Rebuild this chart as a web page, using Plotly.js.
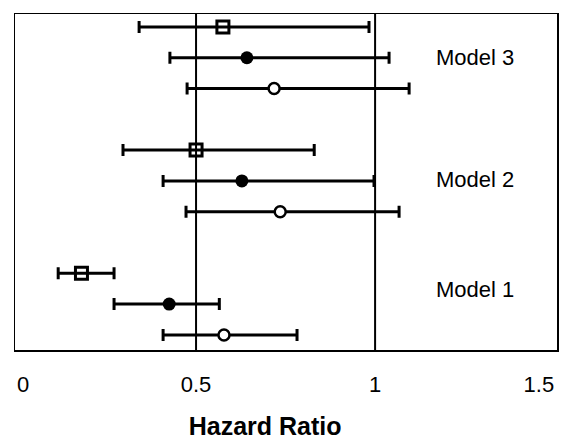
<!DOCTYPE html>
<html>
<head>
<meta charset="utf-8">
<script src="https://cdn.plot.ly/plotly-3.0.1.min.js"></script>
<style>html,body{margin:0;padding:0;background:#fff;}#chart{width:564px;height:440px;}</style>
</head>
<body>
<div id="chart"></div>
<script>
// Row positions (top to bottom: Model 3, Model 2, Model 1)
var models = ["Model 3", "Model 2", "Model 1"];
var modelLabelY = [9.02, 5.05, 1.47];

// Series: square (open), filled circle, open circle; values per model [M3, M2, M1]
var squareY = [10, 6, 2];
var squareHR = [0.575, 0.500, 0.180];
var squareLo = [0.341, 0.296, 0.115];
var squareHi = [0.983, 0.830, 0.271];

var filledY = [9, 5, 1];
var filledHR = [0.642, 0.628, 0.425];
var filledLo = [0.427, 0.408, 0.271];
var filledHi = [1.039, 0.997, 0.565];

var openY = [8, 4, 0];
var openHR = [0.718, 0.735, 0.578];
var openLo = [0.475, 0.472, 0.408];
var openHi = [1.095, 1.067, 0.782];

var refLines = [0.5, 1];
var tickVals = [0, 0.5, 1];
var tickText = ["0", "0.5", "1"];
var edgeTickVals = [1.5];
var edgeTickText = ["1.5"];

var NB = "\u00a0";
var tickTextShown = tickText.map(function (t, i) {
  return i === 0 ? NB + NB + t : t;
});

function mkTrace(hr, lo, hi, y, marker) {
  return {
    type: "scatter", mode: "markers",
    x: hr, y: y,
    error_x: {
      type: "data", symmetric: false,
      array: hr.map(function (v, i) { return hi[i] - v; }),
      arrayminus: hr.map(function (v, i) { return v - lo[i]; }),
      color: "#000", thickness: 3, width: 6
    },
    marker: marker,
    hoverinfo: "x",
    showlegend: false
  };
}

var traces = [
  mkTrace(squareHR, squareLo, squareHi, squareY,
    {symbol: "square-open", size: 12, color: "#000", line: {width: 3, color: "#000"}}),
  mkTrace(filledHR, filledLo, filledHi, filledY,
    {symbol: "circle", size: 13, color: "#000"}),
  mkTrace(openHR, openLo, openHi, openY,
    {symbol: "circle", size: 11, color: "#fff", line: {width: 2.5, color: "#000"}}),
  // empty trace so the overlaying axis (right-edge tick label) is drawn
  {type: "scatter", mode: "markers", x: [], y: [], xaxis: "x2", yaxis: "y", showlegend: false, hoverinfo: "skip"}
];

var shapes = refLines.map(function (v) {
  return {type: "line", xref: "x", yref: "paper", x0: v, x1: v, y0: 0, y1: 1,
          line: {color: "#000", width: 2}, layer: "below"};
});

var annotations = models.map(function (m, i) {
  return {x: 1.28, y: modelLabelY[i], xref: "x", yref: "y", text: m, showarrow: false,
          font: {size: 22, color: "#000"}};
});

var xRange = [-0.0056, 1.508];

var layout = {
  width: 564, height: 440,
  margin: {l: 15, r: 7, t: 14, b: 90},
  paper_bgcolor: "#fff", plot_bgcolor: "#fff",
  font: {family: "Liberation Sans, Arial, sans-serif", color: "#000"},
  xaxis: {
    range: xRange,
    tickvals: tickVals, ticktext: tickTextShown,
    showgrid: false, zeroline: false,
    showline: true, mirror: true, linecolor: "#000", linewidth: 1.5,
    ticks: "", ticklabelstandoff: 14,
    tickfont: {size: 22, color: "#000"},
    title: {text: "<b>Hazard Ratio" + NB.repeat(6) + "</b>", font: {size: 25, color: "#000"}, standoff: 26}
  },
  xaxis2: {
    overlaying: "x", matches: "x", anchor: "y", side: "bottom",
    range: xRange,
    tickvals: edgeTickVals, ticktext: edgeTickText,
    ticklabelposition: "outside left",
    showgrid: false, zeroline: false, showline: false,
    ticks: "", ticklabelstandoff: 19,
    tickfont: {size: 22, color: "#000"}
  },
  yaxis: {
    range: [-0.49, 10.42],
    showgrid: false, zeroline: false, showticklabels: false,
    showline: true, mirror: true, linecolor: "#000", linewidth: 1.5, ticks: ""
  },
  shapes: shapes,
  annotations: annotations
};

Plotly.newPlot("chart", traces, layout, {displayModeBar: false, staticPlot: true});
</script>
</body>
</html>
